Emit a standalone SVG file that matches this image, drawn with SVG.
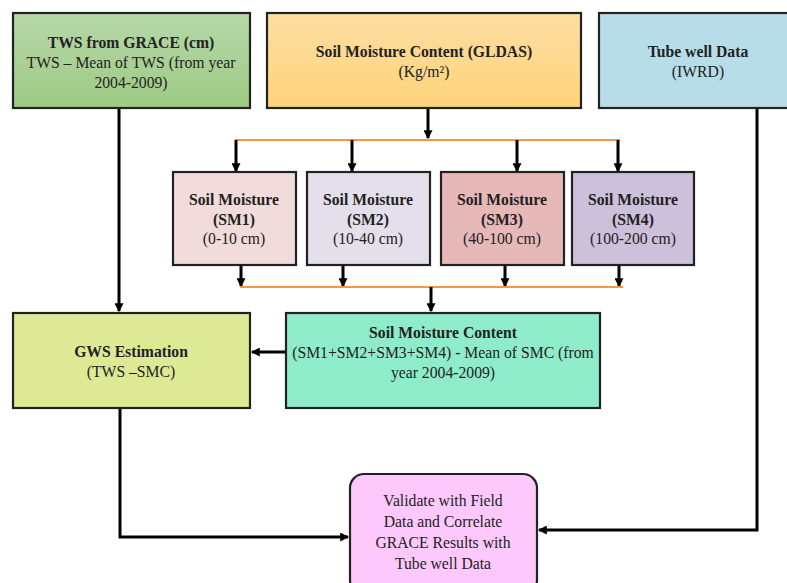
<svg xmlns="http://www.w3.org/2000/svg" width="787" height="583" viewBox="0 0 787 583">
<defs>
<linearGradient id="gGreen" x1="0" y1="0" x2="0" y2="1"><stop offset="0" stop-color="#b6d8a8"/><stop offset="1" stop-color="#9dca84"/></linearGradient>
<linearGradient id="gOrange" x1="0" y1="0" x2="0" y2="1"><stop offset="0" stop-color="#fddea2"/><stop offset="1" stop-color="#fed37a"/></linearGradient>
<marker id="ah" markerWidth="3" markerHeight="3" refX="2.6" refY="1.5" orient="auto" markerUnits="strokeWidth"><path d="M0,0 L3,1.5 L0,3 Z" fill="#000"/></marker>
<style>
.box{stroke:#222;stroke-width:2.2}
.t{font-family:"Liberation Serif","DejaVu Serif",serif;font-size:15.7px;fill:#222;text-anchor:middle}
.b{font-weight:bold}
.c{fill:none;stroke:#000;stroke-width:3}
.o{fill:none;stroke:#f79646;stroke-width:2}
</style>
</defs>
<rect width="787" height="583" fill="#fff"/>
<g id="connectors">
<path class="c" d="M119,109 V311" marker-end="url(#ah)"/>
<path class="c" d="M428,109 V138" marker-end="url(#ah)"/>
<path class="o" d="M235,140 H620"/>
<path class="c" d="M236,140 V171" marker-end="url(#ah)"/>
<path class="c" d="M352,140 V171" marker-end="url(#ah)"/>
<path class="c" d="M517,140 V171" marker-end="url(#ah)"/>
<path class="c" d="M618,140 V171" marker-end="url(#ah)"/>
<path class="c" d="M241,265 V286" marker-end="url(#ah)"/>
<path class="c" d="M343,265 V286" marker-end="url(#ah)"/>
<path class="c" d="M505,265 V286" marker-end="url(#ah)"/>
<path class="c" d="M619,265 V286" marker-end="url(#ah)"/>
<path class="o" d="M240,287 H623"/>
<path class="c" d="M431,287 V311" marker-end="url(#ah)"/>
<path class="c" d="M286,352 H252" marker-end="url(#ah)"/>
<path class="c" d="M120,408 V537 H348" marker-end="url(#ah)"/>
<path class="c" d="M757,109 V530 H539" marker-end="url(#ah)"/>
</g>
<g id="tws">
<rect class="box" x="13" y="13" width="237" height="95" fill="url(#gGreen)"/>
<text class="t b" x="131" y="48">TWS from GRACE (cm)</text>
<text class="t" x="131" y="68">TWS – Mean of TWS (from year</text>
<text class="t" x="131" y="88">2004-2009)</text>
</g>
<g id="gldas">
<rect class="box" x="267" y="13" width="314" height="95" fill="url(#gOrange)"/>
<text class="t b" x="424" y="57">Soil Moisture Content (GLDAS)</text>
<text class="t" x="424" y="77">(Kg/m²)</text>
</g>
<g id="tubewell">
<rect class="box" x="599" y="13" width="200" height="95" fill="#b7dde8"/>
<text class="t b" x="698" y="57">Tube well Data</text>
<text class="t" x="698" y="77">(IWRD)</text>
</g>
<g id="sm1">
<rect class="box" x="173" y="172" width="123" height="93" fill="#f2dcdb"/>
<text class="t b" x="234" y="205">Soil Moisture</text>
<text class="t b" x="234" y="225">(SM1)</text>
<text class="t" x="234" y="244">(0-10 cm)</text>
</g>
<g id="sm2">
<rect class="box" x="307" y="172" width="123" height="93" fill="#e5dfec"/>
<text class="t b" x="368" y="205">Soil Moisture</text>
<text class="t b" x="368" y="225">(SM2)</text>
<text class="t" x="368" y="244">(10-40 cm)</text>
</g>
<g id="sm3">
<rect class="box" x="441" y="172" width="123" height="93" fill="#e6b9b8"/>
<text class="t b" x="502" y="205">Soil Moisture</text>
<text class="t b" x="502" y="225">(SM3)</text>
<text class="t" x="502" y="244">(40-100 cm)</text>
</g>
<g id="sm4">
<rect class="box" x="572" y="172" width="122" height="93" fill="#ccc0da"/>
<text class="t b" x="633" y="205">Soil Moisture</text>
<text class="t b" x="633" y="225">(SM4)</text>
<text class="t" x="633" y="244">(100-200 cm)</text>
</g>
<g id="gws">
<rect class="box" x="13" y="313" width="237" height="95" fill="#dde995"/>
<text class="t b" x="131" y="357">GWS Estimation</text>
<text class="t" x="131" y="377">(TWS –SMC)</text>
</g>
<g id="smc">
<rect class="box" x="286" y="313" width="314" height="95" fill="#8eecca"/>
<text class="t b" x="443" y="338">Soil Moisture Content</text>
<text class="t" x="443" y="358">(SM1+SM2+SM3+SM4) - Mean of SMC (from</text>
<text class="t" x="443" y="378">year 2004-2009)</text>
</g>
<g id="validate">
<rect class="box" x="350" y="474" width="187" height="120" rx="14" fill="#fdc9fd"/>
<text class="t" x="443" y="506">Validate with Field</text>
<text class="t" x="443" y="527">Data and Correlate</text>
<text class="t" x="443" y="548">GRACE Results with</text>
<text class="t" x="443" y="569">Tube well Data</text>
</g>
</svg>
